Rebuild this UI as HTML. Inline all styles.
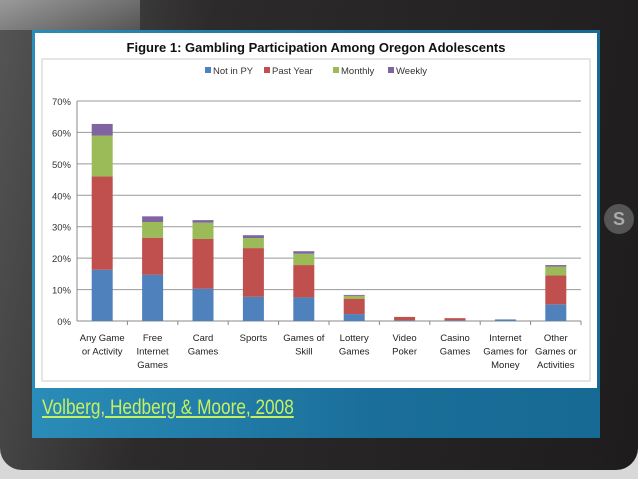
<!DOCTYPE html>
<html><head><meta charset="utf-8"><style>
body{margin:0;width:638px;height:479px;overflow:hidden;background:#d8d8d8;font-family:"Liberation Sans",sans-serif}
#tablet{position:absolute;left:0;top:0;width:638px;height:470px;border-radius:0 0 22px 22px;background:linear-gradient(100deg,#555 0%,#2c2a2a 30%,#1e1c1c 100%)}
#corner{position:absolute;left:0;top:0;width:140px;height:30px;background:linear-gradient(160deg,#9a9a9a,#555)}
#screen{position:absolute;left:32px;top:30px;width:568px;height:408px;background:linear-gradient(90deg,#2a8cb8,#1a6f9a 60%,#166a94)}
#white{position:absolute;left:35px;top:33px;width:562px;height:355px;background:#fff}
#cite{position:absolute;left:42px;top:396px;font-family:"Liberation Sans Narrow","Liberation Sans",sans-serif;font-size:21px;color:#c5f060;text-decoration:underline;transform:scaleX(0.82);transform-origin:left}
#pg{position:absolute;left:593px;top:455px;font-size:10px;color:#222}
#btn{position:absolute;left:604px;top:204px;width:30px;height:30px;border-radius:50%;background:#555;color:#aaa;font-weight:bold;text-align:center;line-height:30px;font-size:18px}
</style></head><body>
<div id="tablet"></div>
<div id="corner"></div>
<div id="btn">S</div>
<div id="screen"></div>
<div id="white"></div>
<div id="cite">Volberg, Hedberg &amp; Moore, 2008</div>
<div id="pg">78</div>
<svg id="chart" width="638" height="479" style="position:absolute;left:0;top:0"></svg>
<script>
const categories=[["Any Game","or Activity"],["Free","Internet","Games"],["Card","Games"],["Sports"],["Games of","Skill"],["Lottery","Games"],["Video","Poker"],["Casino","Games"],["Internet","Games for","Money"],["Other","Games or","Activities"]];
const seriesNames=["Not in PY","Past Year","Monthly","Weekly"];
const notInPY=[16.3,14.7,10.3,7.7,7.5,2.2,0.2,0.2,0.5,5.3];
const pastYear=[29.7,11.8,15.8,15.5,10.3,4.9,1.1,0.7,0,9.2];
const monthly=[13,5,5.2,3.2,3.6,0.9,0,0,0,2.8];
const weekly=[3.7,1.8,0.8,0.9,0.8,0.3,0,0,0,0.5];
const yTicks=[0,10,20,30,40,50,60,70];
const colors=["#4f81bd","#c0504d","#9bbb59","#8064a2"];
const svg=document.getElementById('chart');const NS="http://www.w3.org/2000/svg";
function mk(t,a,txt){const e=document.createElementNS(NS,t);for(const k in a)e.setAttribute(k,a[k]);if(txt!==undefined)e.textContent=txt;svg.appendChild(e);return e;}
const x0=77,x1=581,yB=321,yT=101;
const y=v=>yB-(v/70)*(yB-yT);
const bw=(x1-x0)/categories.length;
const xc=i=>x0+bw*(i+0.5);
let e=mk('rect',{x:42,y:59,width:548,height:322,fill:'none',stroke:'#ccc'});


e=mk('text',{x:316,y:52,'text-anchor':'middle','font-size':13,'font-weight':'bold',fill:'#111'},'Figure 1: Gambling Participation Among Oregon Adolescents');


yTicks.forEach(t=>{
  const l=mk('line',{x1:x0,x2:x1,y1:y(t),y2:y(t),stroke:t===0?'#888':'#999','stroke-width':1});
  
  
  const tx=mk('text',{x:71,y:y(t)+4,'text-anchor':'end','font-size':9.5,fill:'#333'},t+'%');
  
  
});
e=mk('line',{x1:x0,x2:x0,y1:yT,y2:yB,stroke:'#888'});


const series=[notInPY,pastYear,monthly,weekly];
categories.forEach((c,i)=>{
  const tk=mk('line',{x1:x0+bw*(i+1),x2:x0+bw*(i+1),y1:yB,y2:yB+4,stroke:'#888'});
  
  
  let acc=0;
  series.forEach((s,k)=>{
    const v=s[i];if(v<=0)return;
    const r=mk('rect',{x:xc(i)-10.5,y:y(acc+v),width:21,height:y(acc)-y(acc+v),fill:colors[k]});
    
    
    acc+=v;
  });
  c.forEach((ln,j)=>{
    const t=mk('text',{x:xc(i),y:341+j*13.5,'text-anchor':'middle','font-size':9.5,fill:'#222'},ln);
    
    
  });
});
const lx=[205,264,333,388];
seriesNames.forEach((n,k)=>{
  const r=mk('rect',{x:lx[k],y:67,width:6,height:6,fill:colors[k]});
  
  
  const t=mk('text',{x:lx[k]+8,y:74,'font-size':9.5,fill:'#333'},n);
  
  
});
</script>
</body></html>
